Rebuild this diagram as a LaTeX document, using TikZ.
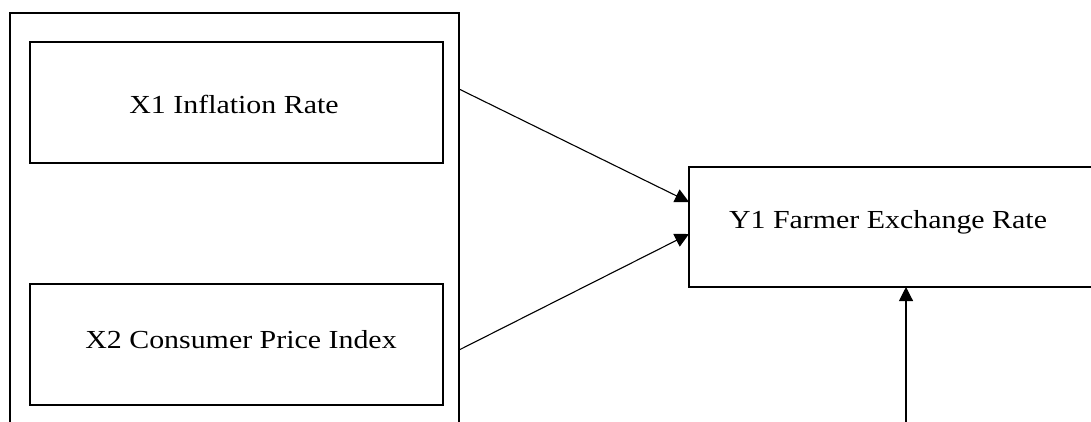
\documentclass[tikz,border=0pt]{standalone}
\usepackage{fontspec}
\setmainfont{Liberation Serif}[FakeStretch=1.15]
\usetikzlibrary{arrows.meta}
\begin{document}
\begin{tikzpicture}[x=1pt,y=-1pt,
  box/.style={draw,line width=2.4pt,inner sep=0pt},
  lbl/.style={font=\fontsize{26}{31}\selectfont,inner sep=0pt},
  conn/.style={line width=1.1pt,-{Triangle[length=14pt,width=14pt]}}]
\useasboundingbox (0,0) rectangle (1091,421);
% outer container (cut off at bottom)
\coordinate (ol) at (10,425);
\coordinate (or) at (459,425);
\draw[line width=2.4pt] (ol) -- (10,13) -- (459,13) -- (or);
\node[box,minimum width=413pt,minimum height=121pt] (x1) at (236.5,102.5) {};
\node[lbl] (x1t) at (234,104) {X1 Inflation Rate};
\node[box,minimum width=413pt,minimum height=121pt] (x2) at (236.5,344.5) {};
\node[lbl] (x2t) at (241,340) {X2 Consumer Price Index};
% Y1 box extends past right edge
\coordinate (yl1) at (689,167);
\coordinate (yl2) at (689,287);
\draw[line width=2.4pt] (1095,167) -- (yl1) -- (yl2) -- (1095,287);
\node[lbl] (y1t) at (888,222) {Y1 Farmer Exchange Rate};
\coordinate (s1) at (459,89);
\coordinate (e1) at (689,202);
\coordinate (s2) at (459,350);
\coordinate (e2) at (689,234);
\coordinate (s3) at (906,425);
\coordinate (e3) at (906,287);
\draw[conn] (s1) -- (e1);
\draw[conn] (s2) -- (e2);
\draw[conn] (s3) -- (e3);
\end{tikzpicture}
\end{document}
